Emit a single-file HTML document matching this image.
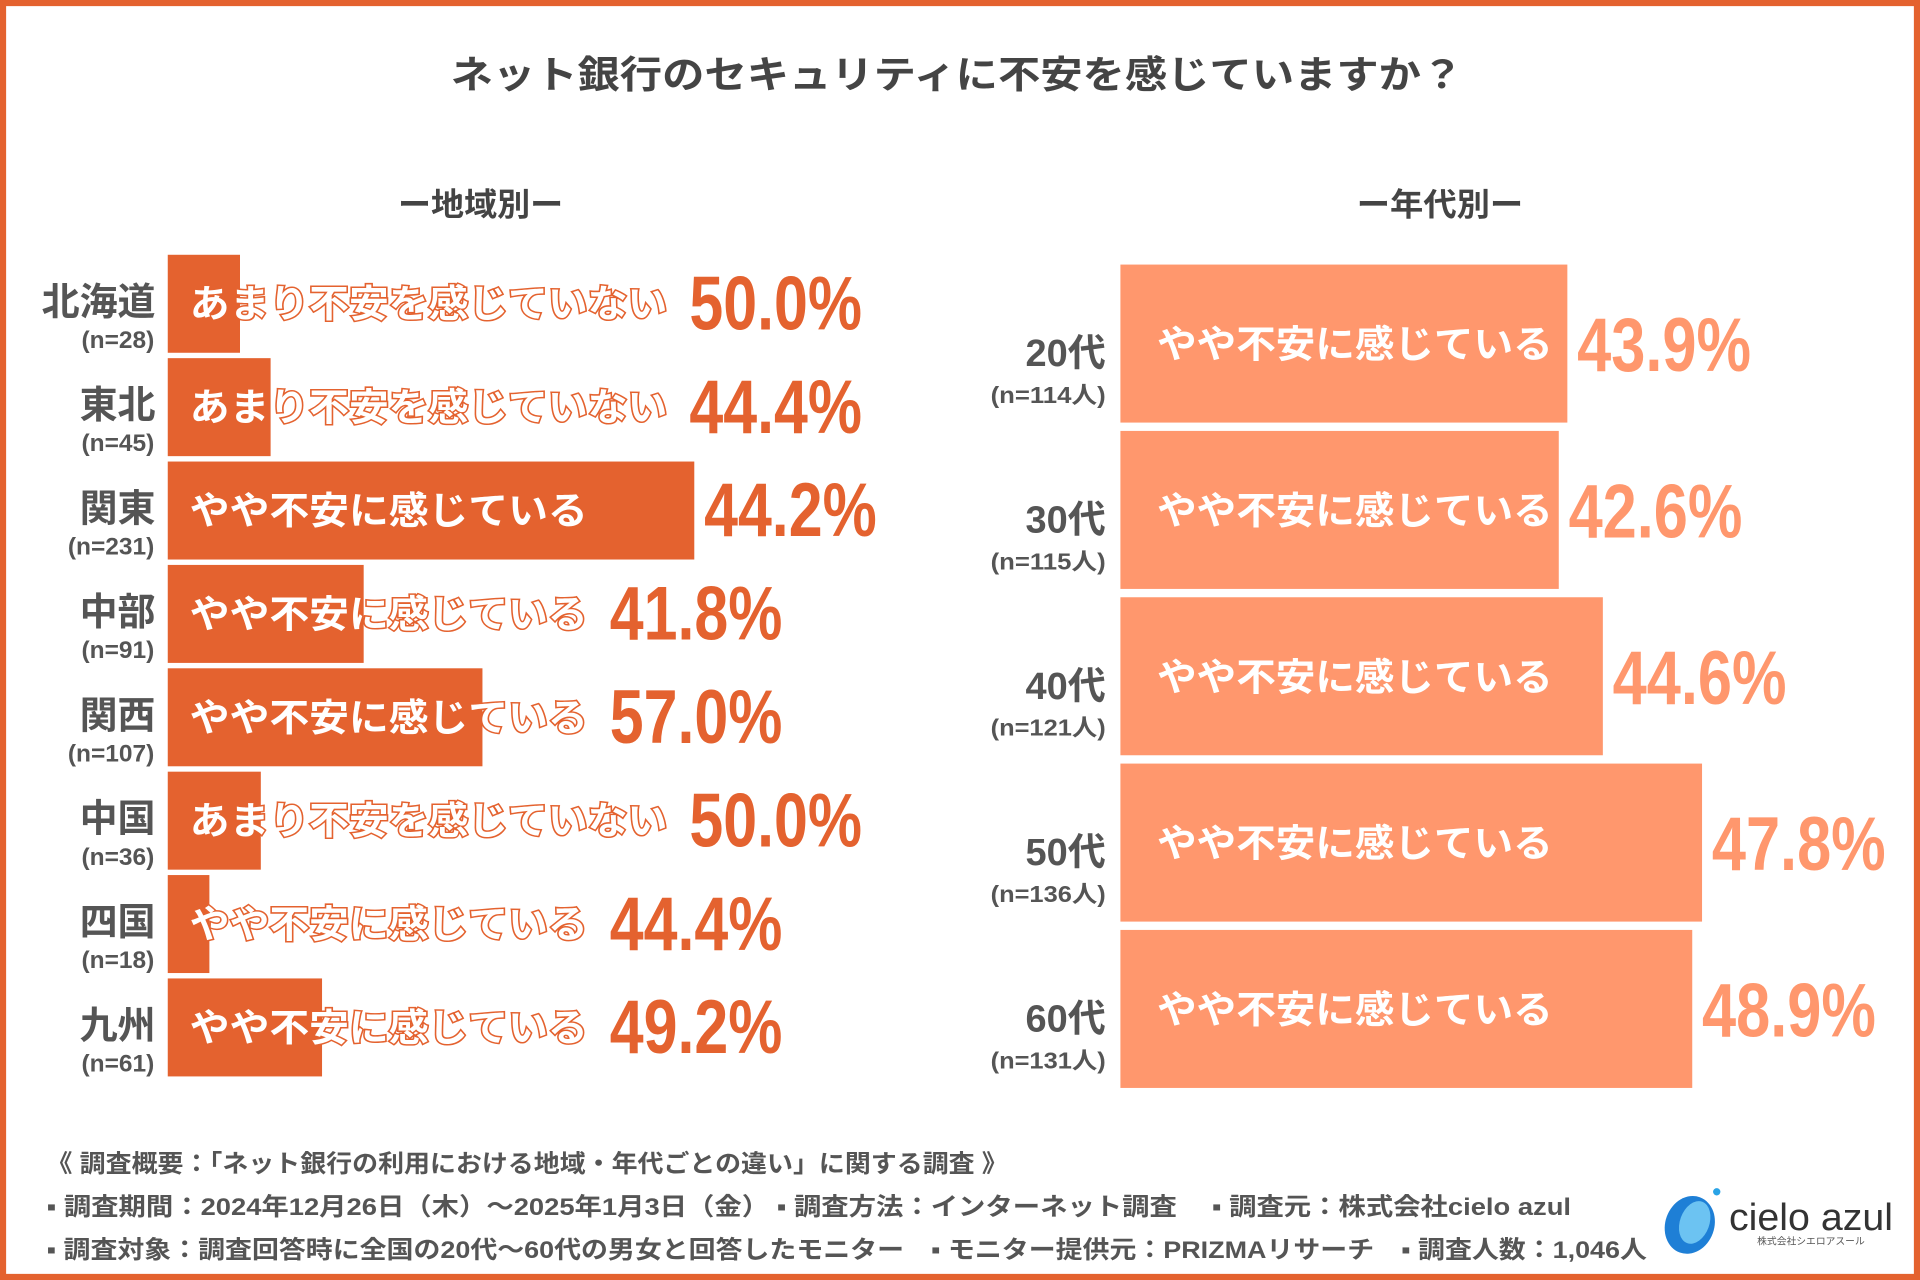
<!DOCTYPE html>
<html><head><meta charset="utf-8">
<style>
html,body{margin:0;padding:0;background:#fff;}
svg{display:block;}
text{font-family:"Liberation Sans","Noto Sans CJK JP",sans-serif;font-weight:bold;}
</style></head>
<body>
<svg id="chart" width="1920" height="1280" viewBox="0 0 1568 1045" preserveAspectRatio="none" xmlns="http://www.w3.org/2000/svg">
<rect x="2.5" y="2.5" width="1563" height="1040" fill="#fff" stroke="#E4622F" stroke-width="5"/>
<text x="368" y="72" font-size="31" fill="#444" textLength="827" lengthAdjust="spacingAndGlyphs">ネット銀行のセキュリティに不安を感じていますか？</text>
<text x="325" y="176" font-size="26" fill="#444" textLength="135" lengthAdjust="spacingAndGlyphs">ー地域別ー</text>
<text x="1108" y="176" font-size="26" fill="#444" textLength="136" lengthAdjust="spacingAndGlyphs">ー年代別ー</text>
<g id="left"></g>
<g id="right"></g>
<g font-size="20" fill="#555">
<text x="38" y="957" textLength="785" lengthAdjust="spacingAndGlyphs">《 調査概要：「ネット銀行の利用における地域・年代ごとの違い」に関する調査 》</text>
<text x="38" y="992" textLength="1245" lengthAdjust="spacingAndGlyphs">▪ 調査期間：2024年12月26日（木）～2025年1月3日（金） ▪ 調査方法：インターネット調査　 ▪ 調査元：株式会社cielo azul</text>
<text x="38" y="1027" textLength="1307" lengthAdjust="spacingAndGlyphs">▪ 調査対象：調査回答時に全国の20代～60代の男女と回答したモニター　▪ モニター提供元：PRIZMAリサーチ　▪ 調査人数：1,046人</text>
</g>
<g>
<ellipse cx="1380" cy="1000" rx="20" ry="24" fill="#1E7FD6" transform="rotate(20 1380 1000)"/>
<ellipse cx="1384" cy="998" rx="12" ry="18" fill="#6CC3F2" transform="rotate(20 1384 998)"/>
<circle cx="1402" cy="973" r="3" fill="#29A3E6"/>
<text x="1412" y="1004" font-size="31" fill="#333" style="font-weight:normal" textLength="134" lengthAdjust="spacingAndGlyphs">cielo azul</text>
<text x="1435" y="1016" font-size="8" fill="#555" style="font-weight:normal">株式会社シエロアスール</text>
</g>
</svg>
<script>
const regionNames = ["北海道","東北","関東","中部","関西","中国","四国","九州"];
const regionN = ["(n=28)","(n=45)","(n=231)","(n=91)","(n=107)","(n=36)","(n=18)","(n=61)"];
const regionAnswers = ["あまり不安を感じていない","あまり不安を感じていない","やや不安に感じている","やや不安に感じている","やや不安に感じている","あまり不安を感じていない","やや不安に感じている","やや不安に感じている"];
const regionPct = [50.0,44.4,44.2,41.8,57.0,50.0,44.4,49.2];
const regionBar = [59,84,430,160,257,76,34,126];

const ageNames = ["20代","30代","40代","50代","60代"];
const ageN = ["(n=114人)","(n=115人)","(n=121人)","(n=136人)","(n=131人)"];
const ageAnswers = ["やや不安に感じている","やや不安に感じている","やや不安に感じている","やや不安に感じている","やや不安に感じている"];
const agePct = [43.9,42.6,44.6,47.8,48.9];
const ageBar = [365,358,394,475,467];

const NS = "http://www.w3.org/2000/svg";
function mk(parent, tag, attrs, txt){
  const e = document.createElementNS(NS, tag);
  for (const k in attrs) e.setAttribute(k, attrs[k]);
  if (txt !== undefined) e.textContent = txt;
  parent.appendChild(e);
  return e;
}
const L = {x0:137, y0:208, pitch:84.4, h:80, unit:1};
const xL = v => L.x0 + v * L.unit;
const yL = i => L.y0 + i * L.pitch;
const gl = document.getElementById('left');
regionNames.forEach((nm, i) => {
  const y = yL(i);
  const g = mk(gl, 'g', {});
  
  
  const b = mk(g, 'rect', {x:L.x0, y:y, width:xL(regionBar[i]) - L.x0, height:L.h, fill:'#E4622F'});
  
  
  const t1 = mk(g, 'text', {x:127, y:y+49, 'font-size':31, fill:'#555', 'text-anchor':'end'}, nm);
  
  
  const t2 = mk(g, 'text', {x:126, y:y+76, 'font-size':20, fill:'#555', 'text-anchor':'end'}, regionN[i]);
  
  
  const ans = regionAnswers[i];
  const w = ans.length * 32.5;
  const t3 = mk(g, 'text', {x:155, y:y+51, 'font-size':31, fill:'#fff', stroke:'#E4622F', 'stroke-width':2.5, 'paint-order':'stroke', textLength:w, lengthAdjust:'spacingAndGlyphs'}, ans);
  
  
  const px = Math.max(155 + w + 18, xL(regionBar[i]) + 8);
  const t4 = mk(g, 'text', {x:px, y:y+61, 'font-size':62, fill:'#E4622F', textLength:141, lengthAdjust:'spacingAndGlyphs'}, regionPct[i].toFixed(1) + '%');
  
  
});
const R = {x0:915, y0:216, pitch:135.8, h:129, unit:1};
const xR = v => R.x0 + v * R.unit;
const yR = i => R.y0 + i * R.pitch;
const gr = document.getElementById('right');
ageNames.forEach((nm, i) => {
  const y = yR(i);
  const g = mk(gr, 'g', {});
  
  
  const b = mk(g, 'rect', {x:R.x0, y:y, width:xR(ageBar[i]) - R.x0, height:R.h, fill:'#FF976D'});
  
  
  const t1 = mk(g, 'text', {x:903, y:y+83, 'font-size':31, fill:'#555', 'text-anchor':'end'}, nm);
  
  
  const t2 = mk(g, 'text', {x:903, y:y+113, 'font-size':19, fill:'#555', 'text-anchor':'end', textLength:94, lengthAdjust:'spacingAndGlyphs'}, ageN[i]);
  
  
  const t3 = mk(g, 'text', {x:945, y:y+76, 'font-size':31, fill:'#fff', textLength:323, lengthAdjust:'spacingAndGlyphs'}, ageAnswers[i]);
  
  
  const t4 = mk(g, 'text', {x:xR(ageBar[i]) + 8, y:y+87, 'font-size':62, fill:'#FF976D', textLength:142, lengthAdjust:'spacingAndGlyphs'}, agePct[i].toFixed(1) + '%');
  
  
});
</script>
</body></html>
